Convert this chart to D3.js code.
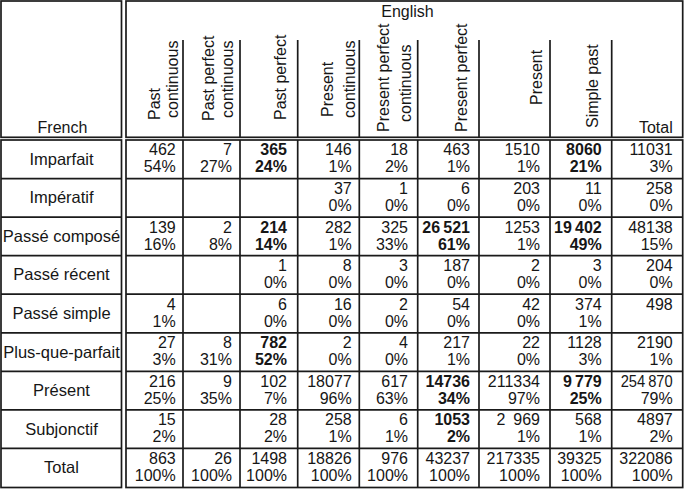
<!DOCTYPE html>
<html>
<head>
<meta charset="utf-8">
<script src="https://cdn.jsdelivr.net/npm/d3@7"></script>
<style>
  html, body { margin: 0; padding: 0; background: #fff; }
  svg { display: block; }
  text { font-family: "Liberation Sans", Arial, Helvetica, sans-serif; font-size: 16px; fill: #161616; }
  text.rowlab { font-size: 16.5px; }
</style>
</head>
<body>
<svg id="chart" width="685" height="489"></svg>
<script>
// ---------------- data ----------------
const rowLabels = ["Imparfait", "Impératif", "Passé composé", "Passé récent", "Passé simple",
                   "Plus-que-parfait", "Présent", "Subjonctif", "Total"];
const colLabels = [["Past", "continuous"], ["Past perfect", "continuous"], ["Past perfect"],
                   ["Present", "continuous"], ["Present perfect", "continuous"], ["Present perfect"],
                   ["Present"], ["Simple past"], ["Total"]];
const groupTitleCols = "English";
const groupTitleRows = "French";

const counts = [
  [462, 7, 365, 146, 18, 463, 1510, 8060, 11031],
  [null, null, null, 37, 1, 6, 203, 11, 258],
  [139, 2, 214, 282, 325, 26521, 1253, 19402, 48138],
  [null, null, 1, 8, 3, 187, 2, 3, 204],
  [4, null, 6, 16, 2, 54, 42, 374, 498],
  [27, 8, 782, 2, 4, 217, 22, 1128, 2190],
  [216, 9, 102, 18077, 617, 14736, 211334, 9779, 254870],
  [15, null, 28, 258, 6, 1053, 2969, 568, 4897],
  [863, 26, 1498, 18826, 976, 43237, 217335, 39325, 322086]
];
const percents = [
  [54, 27, 24, 1, 2, 1, 1, 21, 3],
  [null, null, null, 0, 0, 0, 0, 0, 0],
  [16, 8, 14, 1, 33, 61, 1, 49, 15],
  [null, null, 0, 0, 0, 0, 0, 0, 0],
  [1, null, 0, 0, 0, 0, 0, 1, null],
  [3, 31, 52, 0, 0, 1, 0, 3, 1],
  [25, 35, 7, 96, 63, 34, 97, 25, 79],
  [2, null, 2, 1, 1, 2, 1, 1, 2],
  [100, 100, 100, 100, 100, 100, 100, 100, 100]
];
// cells printed in bold [row, col]
const boldCells = [[0, 2], [0, 7], [2, 2], [2, 5], [2, 7], [5, 2], [6, 5], [6, 7], [7, 5]];
// numbers printed with a thin / wider gap between thousands
const thinGapValues = [26521, 19402, 9779, 254870];
const wideGapValues = [2969];

// ---------------- layout ----------------
const L = {
  left: 1, right: 682.7, top: 1, bottom: 487.5,
  labelColRight: 121.5, bodyLeft: 126,
  headRuleTop: 137.3, bodyTop: 140, headSepTop: 40
};
const colWidths = [57, 57, 57.7, 61.6, 58.4, 61.3, 71, 61.7, 71];
const cellPad = [7.3, 8, 10.7, 7.6, 9.7, 9, 10, 10, 10];
const maxNumWidth = 52;
// rotated header lines: baseline offset from column left, start y (bottom of text)
const headerLines = [
  [[33.8, 120], [51.6, 118]],
  [[30.5, 121], [50.3, 118]],
  [[46, 120]],
  [[35.6, 117], [57, 118]],
  [[30, 132], [51.2, 122]],
  [[49.5, 132]],
  [[62.5, 105]],
  [[48, 128]],
  null
];

const svg = d3.select("#chart");
const colKeys = d3.range(colLabels.length);
const edges = [L.bodyLeft];
colWidths.forEach(w => edges.push(edges[edges.length - 1] + w));
const xLeft = d3.scaleOrdinal().domain(colKeys).range(edges.slice(0, -1));
const xRight = d3.scaleOrdinal().domain(colKeys).range(edges.slice(1));
const y = d3.scaleBand().domain(rowLabels).range([L.bodyTop, L.bottom - 0.5]);

const lineColor = "#1a1a1a", lw = 1.7;
const g = svg.append("g");

// boxes (double rules between the four quadrants)
const boxes = [
  [L.left, L.top, L.labelColRight, L.headRuleTop],
  [L.bodyLeft, L.top, L.right, L.headRuleTop],
  [L.left, L.bodyTop, L.labelColRight, L.bottom],
  [L.bodyLeft, L.bodyTop, L.right, L.bottom]
];
g.selectAll("rect.box").data(boxes).join("rect")
  .attr("class", "box")
  .attr("x", d => d[0]).attr("y", d => d[1])
  .attr("width", d => d[2] - d[0]).attr("height", d => d[3] - d[1])
  .attr("fill", "none").attr("stroke", lineColor).attr("stroke-width", lw);

// column separators
const innerCols = colKeys.slice(0, -1);
g.selectAll("line.colsep").data(innerCols).join("line")
  .attr("class", "colsep")
  .attr("x1", d => xRight(d)).attr("x2", d => xRight(d))
  .attr("y1", L.headSepTop).attr("y2", L.headRuleTop)
  .attr("stroke", lineColor).attr("stroke-width", lw);
g.selectAll("line.colsepb").data(innerCols).join("line")
  .attr("class", "colsepb")
  .attr("x1", d => xRight(d)).attr("x2", d => xRight(d))
  .attr("y1", L.bodyTop).attr("y2", L.bottom)
  .attr("stroke", lineColor).attr("stroke-width", lw);

// row separators
const innerRows = rowLabels.slice(1);
[[L.left, L.labelColRight], [L.bodyLeft, L.right]].forEach(([a, b], k) => {
  g.selectAll("line.rowsep" + k).data(innerRows).join("line")
    .attr("class", "rowsep" + k)
    .attr("x1", a).attr("x2", b)
    .attr("y1", d => y(d)).attr("y2", d => y(d))
    .attr("stroke", lineColor).attr("stroke-width", lw);
});

// header titles
svg.append("text").attr("x", 407.5).attr("y", 16.5).attr("text-anchor", "middle").text(groupTitleCols);
svg.append("text").attr("x", 62.5).attr("y", 133).attr("text-anchor", "middle").text(groupTitleRows);

// rotated column labels
colKeys.forEach(c => {
  const lines = headerLines[c];
  if (!lines) {
    svg.append("text").attr("x", xRight(c) - cellPad[c]).attr("y", 133)
      .attr("text-anchor", "end").text(colLabels[c][0]);
    return;
  }
  colLabels[c].forEach((t, i) => {
    const [bx, sy] = lines[i];
    svg.append("text")
      .attr("transform", `translate(${xLeft(c) + bx},${sy}) rotate(-90)`)
      .attr("text-anchor", "start").text(t);
  });
});

// row labels
svg.selectAll("text.rowlab").data(rowLabels).join("text")
  .attr("class", "rowlab")
  .attr("x", 61.5)
  .attr("y", d => y(d) + y.bandwidth() / 2 + 5.5)
  .attr("text-anchor", "middle").text(d => d);

// cells
const fmt = v => {
  const s = String(v);
  if (thinGapValues.includes(v)) return s.slice(0, -3) + "\u2009" + s.slice(-3);
  if (wideGapValues.includes(v)) return s.slice(0, -3) + "\u2002" + s.slice(-3);
  return s;
};
const isBold = (r, c) => boldCells.some(([a, b]) => a === r && b === c);
const cells = [];
rowLabels.forEach((rl, r) => colKeys.forEach(c => cells.push({ r, c, rl, n: counts[r][c], p: percents[r][c] })));

const cg = svg.selectAll("g.cell").data(cells).join("g").attr("class", "cell");
cg.filter(d => d.n !== null).append("text")
  .attr("x", d => xRight(d.c) - cellPad[d.c])
  .attr("y", d => y(d.rl) + y.bandwidth() / 2 - 3.8)
  .attr("text-anchor", "end")
  .attr("font-weight", d => isBold(d.r, d.c) ? "bold" : null)
  .text(d => fmt(d.n))
  .each(function () {
    const w = this.getComputedTextLength();
    if (w > maxNumWidth + 2) {
      d3.select(this).attr("textLength", maxNumWidth).attr("lengthAdjust", "spacingAndGlyphs");
    }
  });
cg.filter(d => d.p !== null).append("text")
  .attr("x", d => xRight(d.c) - cellPad[d.c])
  .attr("y", d => y(d.rl) + y.bandwidth() / 2 + 13.2)
  .attr("text-anchor", "end")
  .attr("font-weight", d => isBold(d.r, d.c) ? "bold" : null)
  .text(d => d.p + "%");
</script>
</body>
</html>
